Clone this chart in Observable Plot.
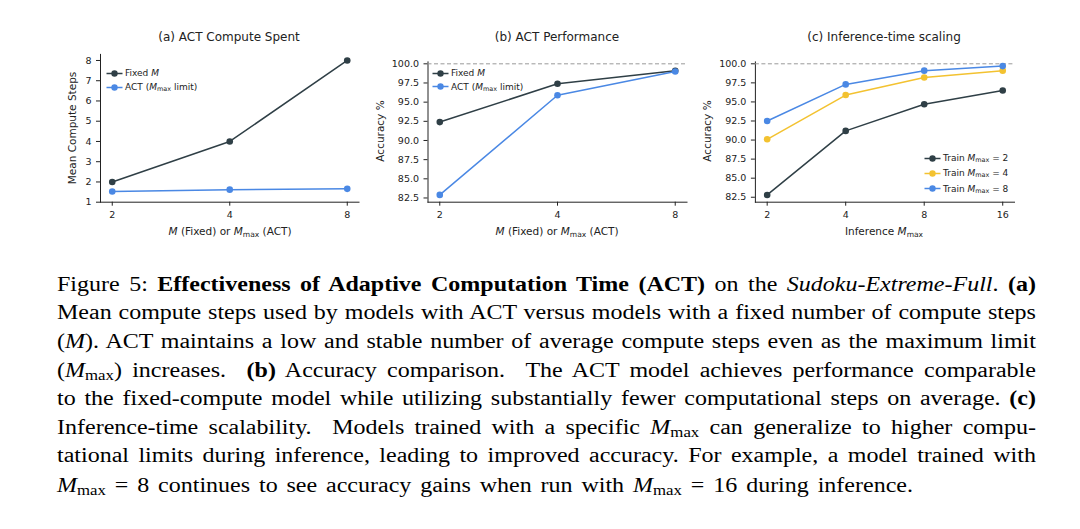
<!DOCTYPE html>
<html><head><meta charset="utf-8">
<script src="https://cdn.jsdelivr.net/npm/d3@7"></script>
<script src="https://cdn.jsdelivr.net/npm/@observablehq/plot@0.6"></script>
<style>
body{margin:0;background:#fff;}
#root{position:relative;width:1080px;height:529px;overflow:hidden;font-family:"DejaVu Sans",sans-serif;color:#222;background:#fff;}
.abs{position:absolute;white-space:nowrap;line-height:1;}
.title{font-size:12px;transform:translate(-50%,-50%);}
.xl{font-size:10.5px;transform:translate(-50%,-50%);}
.yl{font-size:10.5px;transform:translate(-50%,-50%) rotate(-90deg);}
.m{font-style:italic;}
.sub{font-size:0.72em;vertical-align:-0.28em;line-height:0;}
.leg{font-size:9px;display:flex;align-items:center;transform:translate(0,-50%);}
.leg svg{margin-right:2px;}
.plot{position:absolute;}
.cap{position:absolute;left:57px;top:269.8px;width:815.8px;transform-origin:0 0;transform:scaleX(1.2);font-family:"Liberation Serif","Times New Roman",serif;font-size:20px;color:#000;}
.cap div{height:28.6px;line-height:28.6px;text-align:justify;text-align-last:justify;white-space:nowrap;}
.cap div.last{text-align-last:left;word-spacing:2.4px;margin-top:1.5px;}
.cap i.mm{font-style:italic;}
.cap .s{font-size:0.7em;vertical-align:-0.22em;line-height:0;font-style:normal;}
</style></head>
<body><div id="root"></div>
<script>
// ---- data ----
const mValues = [2, 4, 8];
const fixedSteps = [2, 4, 8];
const actSteps = [1.53, 1.62, 1.66];
const fixedAcc = [92.4, 97.4, 99.1];
const actAcc = [82.9, 95.9, 99.0];
const inferM = [2, 4, 8, 16];
const train2Acc = [82.8, 91.2, 94.7, 96.5];
const train4Acc = [90.1, 95.9, 98.2, 99.1];
const train8Acc = [92.5, 97.3, 99.1, 99.7];
const stepTicks = [1, 2, 3, 4, 5, 6, 7, 8];
const accTicks = [82.5, 85.0, 87.5, 90.0, 92.5, 95.0, 97.5, 100.0];
const accCeiling = [100];
const titles = ["(a) ACT Compute Spent", "(b) ACT Performance", "(c) Inference-time scaling"];
const colDark = "#2f3f46", colBlue = "#4a88e4", colYellow = "#f3c230";

const root = document.getElementById("root");
const rows = (xs, ys) => xs.map((x, i) => ({x, y: ys[i]}));
const series = (xs, ys, c) => [
  Plot.line(rows(xs, ys), {x: "x", y: "y", stroke: c, strokeWidth: 1.5}),
  Plot.dot(rows(xs, ys), {x: "x", y: "y", fill: c, r: 3.3})
];
const style = {fontFamily: "DejaVu Sans", fontSize: "9.5px", color: "#222", background: "transparent", overflow: "visible"};

function place(el, left, top) {
  const d = document.createElement("div");
  d.className = "plot"; d.style.left = left + "px"; d.style.top = top + "px";
  d.appendChild(el); root.appendChild(d);
}
function html(cls, x, y, content) {
  const d = document.createElement("div");
  d.className = "abs " + cls; d.style.left = x + "px"; d.style.top = y + "px";
  d.innerHTML = content; root.appendChild(d);
}
function legend(x, y, color, label) {
  const d = document.createElement("div");
  d.className = "abs leg"; d.style.left = x + "px"; d.style.top = y + "px";
  d.innerHTML = `<svg width="17" height="8"><line x1="0.5" y1="4" x2="16.5" y2="4" stroke="${color}" stroke-width="1.5"/><circle cx="8.5" cy="4" r="3.2" fill="${color}"/></svg><span>${label}</span>`;
  root.appendChild(d);
}

// (a)
place(Plot.plot({
  width: 330, height: 230, marginLeft: 60, marginRight: 11.5, marginTop: 33.9, marginBottom: 48.3, style,
  x: {type: "log", base: 2, domain: [2 ** 0.9, 2 ** 3.1], ticks: mValues, tickFormat: d => String(d), line: true, label: null, tickSize: 4},
  y: {domain: [1, 8.3], ticks: stepTicks, tickFormat: d => String(d), line: true, label: null, tickSize: 4},
  marks: [...series(mValues, fixedSteps, colDark), ...series(mValues, actSteps, colBlue)]
}), 40, 20);

// (b)
place(Plot.plot({
  width: 330, height: 230, marginLeft: 57.5, marginRight: 13.5, marginTop: 41.4, marginBottom: 48.3, style,
  x: {type: "log", base: 2, domain: [2 ** 0.9, 2 ** 3.1], ticks: mValues, tickFormat: d => String(d), line: true, label: null, tickSize: 4},
  y: {domain: [81.95, 100.25], ticks: accTicks, tickFormat: d => d.toFixed(1), line: true, label: null, tickSize: 4},
  marks: [Plot.ruleY(accCeiling, {stroke: "#999", strokeDasharray: "4,2.5", strokeWidth: 1}),
    ...series(mValues, fixedAcc, colDark), ...series(mValues, actAcc, colBlue)]
}), 370, 20);

// (c)
place(Plot.plot({
  width: 340, height: 230, marginLeft: 54.9, marginRight: 26, marginTop: 41.4, marginBottom: 48.3, style,
  x: {type: "log", base: 2, domain: [2 ** 0.85, 2 ** 4.15], ticks: inferM, tickFormat: d => String(d), line: true, label: null, tickSize: 4},
  y: {domain: [81.85, 100.25], ticks: accTicks, tickFormat: d => d.toFixed(1), line: true, label: null, tickSize: 4},
  marks: [Plot.ruleY(accCeiling, {stroke: "#999", strokeDasharray: "4,2.5", strokeWidth: 1}),
    ...series(inferM, train2Acc, colDark), ...series(inferM, train4Acc, colYellow), ...series(inferM, train8Acc, colBlue)]
}), 700, 20);

// titles and axis labels
html("title", 229, 37, titles[0]);
html("title", 557, 37, titles[1]);
html("title", 884, 37, titles[2]);
const mmax = `<span class="m">M</span><span class="sub">max</span>`;
html("xl", 230, 231, `<span class="m">M</span> (Fixed) or ${mmax} (ACT)`);
html("xl", 557, 231, `<span class="m">M</span> (Fixed) or ${mmax} (ACT)`);
html("xl", 884, 231, `Inference ${mmax}`);
html("yl", 72, 128, "Mean Compute Steps");
html("yl", 380, 131, "Accuracy %");
html("yl", 707, 131, "Accuracy %");

// legends
legend(106, 73.3, colDark, `Fixed <span class="m">M</span>`);
legend(106, 87, colBlue, `ACT (${mmax} limit)`);
legend(432, 73.3, colDark, `Fixed <span class="m">M</span>`);
legend(432, 86.7, colBlue, `ACT (${mmax} limit)`);
legend(924, 158, colDark, `Train ${mmax} = 2`);
legend(924, 173.3, colYellow, `Train ${mmax} = 4`);
legend(924, 188.7, colBlue, `Train ${mmax} = 8`);

// caption
const M = `<i class="mm">M</i>`;
const Mx = `<i class="mm">M</i><span class="s">max</span>`;
const capLines = [
  `Figure 5: <b>Effectiveness of Adaptive Computation Time (ACT)</b> on the <i>Sudoku-Extreme-Full</i>. <b>(a)</b>`,
  `Mean compute steps used by models with ACT versus models with a fixed number of compute steps`,
  `(${M}). ACT maintains a low and stable number of average compute steps even as the maximum limit`,
  `(${Mx}) increases. &nbsp;<b>(b)</b> Accuracy comparison. &nbsp;The ACT model achieves performance comparable`,
  `to the fixed-compute model while utilizing substantially fewer computational steps on average. <b>(c)</b>`,
  `Inference-time scalability. &nbsp;Models trained with a specific ${Mx} can generalize to higher compu-`,
  `tational limits during inference, leading to improved accuracy. For example, a model trained with`,
  `${Mx} = 8 continues to see accuracy gains when run with ${Mx} = 16 during inference.`
];
const cap = document.createElement("div");
cap.className = "cap";
cap.innerHTML = capLines.map((l, i) => `<div${i === capLines.length - 1 ? ' class="last"' : ''}>${l}</div>`).join("");
root.appendChild(cap);
</script>
</body></html>
